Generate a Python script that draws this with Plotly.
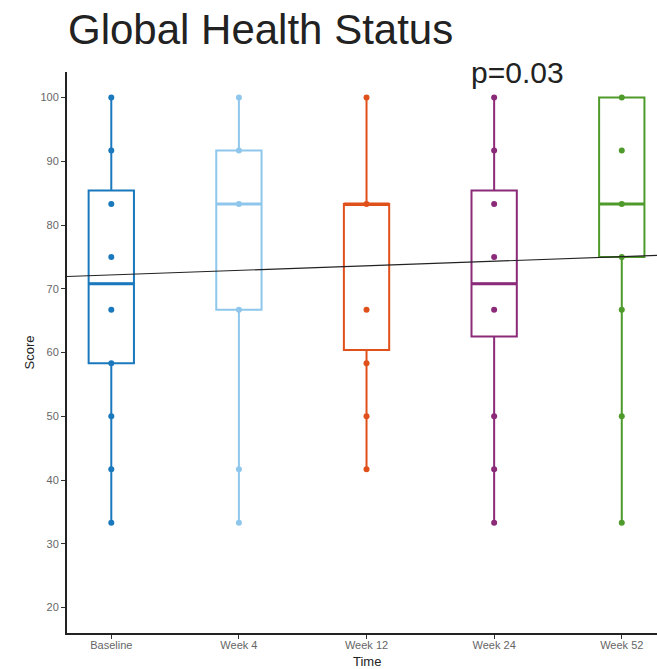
import numpy as np
import plotly.graph_objects as go

# Visits and box-plot summary of the Global Health Status score
visits = ["Baseline", "Week 4", "Week 12", "Week 24", "Week 52"]
q1 = [58.3, 66.7, 60.4, 62.5, 75.0]
median = [70.8, 83.3, 83.3, 70.8, 83.3]
q3 = [85.4, 91.7, 83.3, 85.4, 100.0]
lower_whisker = [33.3, 33.3, 41.7, 33.3, 33.3]
upper_whisker = [100.0, 100.0, 100.0, 100.0, 75.0]

# Observed scores at each visit
scores = [
    [33.3, 41.7, 50.0, 58.3, 66.7, 75.0, 83.3, 91.7, 100.0],
    [33.3, 41.7, 66.7, 83.3, 91.7, 100.0],
    [41.7, 50.0, 58.3, 66.7, 83.3, 100.0],
    [33.3, 41.7, 50.0, 66.7, 75.0, 83.3, 91.7, 100.0],
    [33.3, 50.0, 66.7, 75.0, 83.3, 91.7, 100.0],
]

# Linear trend over visits
trend_intercept = 72.17
trend_slope = 0.715
p_label = "p=0.03"

colors = ["#1a78bd", "#8fc7ec", "#e0501a", "#8a2a78", "#4e9a2a"]

font_family = "Liberation Sans, Arial, sans-serif"
x_range = [-0.347, 4.276]
box_width = 0.355

fig = go.Figure()

for i, name in enumerate(visits):
    fig.add_trace(go.Box(
        x=[i], q1=[q1[i]], median=[median[i]], q3=[q3[i]],
        lowerfence=[lower_whisker[i]], upperfence=[upper_whisker[i]],
        width=box_width, whiskerwidth=0, boxpoints=False,
        line=dict(color=colors[i], width=2),
        fillcolor="white", name=name, showlegend=False, hoverinfo="skip",
    ))
    # thicker median bar
    fig.add_trace(go.Scatter(
        x=[i - box_width / 2, i + box_width / 2], y=[median[i], median[i]],
        mode="lines", line=dict(color=colors[i], width=3),
        showlegend=False, hoverinfo="skip",
    ))

for i, name in enumerate(visits):
    fig.add_trace(go.Scatter(
        x=[i] * len(scores[i]), y=scores[i], mode="markers",
        marker=dict(color=colors[i], size=6),
        showlegend=False, name=name,
    ))

tx = np.array(x_range)
fig.add_trace(go.Scatter(
    x=tx, y=trend_intercept + trend_slope * tx, mode="lines",
    line=dict(color="#222222", width=1.2), showlegend=False, hoverinfo="skip",
))

fig.update_layout(
    width=657, height=669,
    margin=dict(l=67, r=0, t=72, b=36),
    plot_bgcolor="white", paper_bgcolor="white",
    boxmode="overlay",
    font=dict(family=font_family),
    title=dict(
        text="Global Health Status", font=dict(size=42, color="#222222"),
        xref="container", yref="container", x=68 / 657, xanchor="left",
        y=1 - 15 / 669, yanchor="top",
    ),
    xaxis=dict(
        range=x_range, tickmode="array", tickvals=list(range(len(visits))),
        ticktext=visits, showgrid=False, zeroline=False,
        showline=True, linecolor="#222222", linewidth=2,
        ticks="outside", ticklen=4, tickwidth=1, tickcolor="#333333",
        tickfont=dict(size=11, color="#666666"), ticklabelstandoff=-3,
    ),
    yaxis=dict(
        range=[16, 104], tickvals=[20, 30, 40, 50, 60, 70, 80, 90, 100],
        showgrid=False, zeroline=False,
        showline=True, linecolor="#222222", linewidth=2,
        ticks="outside", ticklen=4, tickwidth=1, tickcolor="#333333",
        tickfont=dict(size=11, color="#666666"),
    ),
    annotations=[
        dict(text="Score", xref="paper", yref="paper", x=-38 / 590, y=0.5,
             textangle=-90, showarrow=False, xanchor="center", yanchor="middle",
             font=dict(size=13, color="#222222")),
        dict(text="Time", xref="x", yref="paper", x=2, y=-28 / 561,
             showarrow=False, xanchor="center", yanchor="middle",
             font=dict(size=13, color="#222222")),
        dict(text=p_label, xref="paper", yref="paper", x=(469 - 67) / 590,
             y=1.0, showarrow=False, xanchor="left", yanchor="middle",
             font=dict(size=30, color="#222222")),
    ],
)

fig.write_html("out.html")
